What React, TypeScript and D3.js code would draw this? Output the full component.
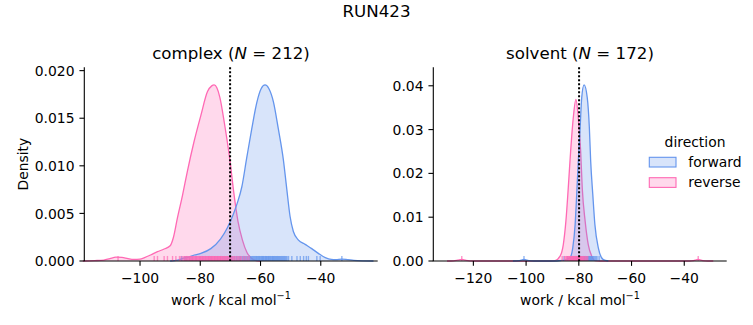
import React from "react";
import * as d3 from "d3";

// ---------- data ----------
const suptitle = "RUN423";
const panels = ["complex", "solvent"];
const panelN = [212, 172];
const directions = ["forward", "reverse"];
const dirColors = ["#6495ED", "#FF69B4"];
const xLabel = "work / kcal mol";

// density curves [work, density]
const complexForward: [number, number][] = [
  [-90, 0], [-87.5, 0.0001], [-86, 0.00025], [-84, 0.0004], [-82, 0.00063], [-79.8, 0.0008],
  [-76.5, 0.0013], [-73.3, 0.0023], [-71, 0.0035], [-69.3, 0.0047], [-67.8, 0.006],
  [-66.2, 0.0078], [-64.6, 0.0108], [-62.9, 0.0139], [-61.2, 0.0167], [-59.8, 0.0181],
  [-58.5, 0.0185], [-57.2, 0.0181], [-55.7, 0.0167], [-54.1, 0.0139], [-52.4, 0.0106],
  [-51.3, 0.0076], [-50.2, 0.0047], [-49.1, 0.0031], [-47.4, 0.0022], [-45.2, 0.00175],
  [-43, 0.0013], [-40.8, 0.0008], [-38.5, 0.00035], [-36.5, 0.00017], [-35, 0.00015],
  [-33, 0.0002], [-31, 0.00014], [-29, 0.00007], [-26, 0.00002], [-22.5, 0],
];
const complexReverse: [number, number][] = [
  [-119, 0], [-115, 0.00004], [-112, 0.0001], [-110, 0.00026], [-108, 0.0004], [-106, 0.00038],
  [-104, 0.00025], [-102, 0.00017], [-100, 0.0002], [-98.5, 0.00036], [-96.5, 0.00063],
  [-94.2, 0.00098], [-92, 0.00126], [-90, 0.0016], [-88.9, 0.0025], [-87.6, 0.0045],
  [-85.9, 0.0069], [-84.3, 0.0094], [-82.1, 0.0125], [-79.8, 0.0153], [-77.6, 0.0178],
  [-76.2, 0.0184], [-75.4, 0.0185], [-74.5, 0.0182], [-73.5, 0.0172], [-72, 0.0145],
  [-70, 0.0102], [-69, 0.0075], [-67.5, 0.0042], [-66, 0.0022], [-64.5, 0.0009],
  [-63, 0.0003], [-61.5, 0.00005], [-60, 0],
];
const solventForward: [number, number][] = [
  [-105, 0], [-102.5, 0.0001], [-100.8, 0.00035], [-99, 0.0001], [-97, 0],
  [-89, 0], [-87, 0.0001], [-85.2, 0.0002], [-83.3, 0.0008], [-82.3, 0.003],
  [-81.4, 0.0083], [-80.8, 0.0152], [-80.2, 0.0228], [-79.5, 0.0304], [-78.9, 0.0373],
  [-78.0, 0.0402], [-76.8, 0.0373], [-76.0, 0.0304], [-75.5, 0.0228], [-74.7, 0.0152],
  [-73.9, 0.0083], [-72.6, 0.003], [-70.7, 0.0003], [-68.8, 0],
];
const solventReverse: [number, number][] = [
  [-130, 0], [-127.5, 0.00005], [-126, 0.00018], [-124.4, 0.00035], [-123, 0.00018],
  [-121.5, 0.00005], [-119, 0], [-91, 0], [-89, 0.0001], [-87.1, 0.0011], [-85.9, 0.0037],
  [-84.9, 0.0091], [-84.0, 0.0167], [-83.1, 0.0251], [-82.1, 0.0327], [-81.1, 0.0369],
  [-80.2, 0.0327], [-79.3, 0.0251], [-78.7, 0.0167], [-77.6, 0.0091], [-76.4, 0.0037],
  [-75.1, 0.0011], [-73.9, 0.0001], [-72, 0], [-38, 0], [-36.5, 0.0001], [-34.7, 0.00035],
  [-33, 0.0001], [-31, 0], [-29, 0],
];

// rug values
const complexForwardRug = [
  -86.2, -85.1, -84.5, -83.6, -82.7, -81.4, -80.1, -79.2, -78.3, -77.3, -76.4, -75.2, -74.2,
  -73.3, -72.5, -71.8, -71.1, -70.4, -69.8, -69.2, -68.6, -68.0, -67.5, -67.0, -66.6, -66.1,
  -65.7, -65.3, -64.9, -64.5, -64.2, -63.8, -63.5, -63.2, -62.9, -62.6, -62.3, -62.0, -61.7,
  -61.4, -61.2, -60.9, -60.7, -60.4, -60.2, -59.9, -59.7, -59.4, -59.2, -59.0, -58.8, -58.5,
  -58.3, -58.1, -57.9, -57.6, -57.4, -57.2, -57.0, -56.7, -56.5, -56.2, -56.0, -55.8, -55.6,
  -55.3, -55.1, -54.8, -54.6, -54.3, -54.1, -53.8, -53.6, -53.3, -53.0, -52.7, -52.4, -52.1,
  -51.8, -51.5, -51.2, -50.7, -49.6, -47.9, -46.8, -45.7, -44.8, -44.1, -41.3, -40.2, -33.0,
];
const complexReverseRug = [
  -107.3, -95.3, -94.2, -92.0, -90.9, -89.2, -88.1, -86.9, -86.4, -85.8, -85.4, -85.1, -84.8,
  -84.6, -84.3, -84.0, -83.7, -83.5, -83.3, -83.1, -82.8, -82.6, -82.4, -82.2, -81.9, -81.7,
  -81.5, -81.3, -81.1, -80.9, -80.6, -80.4, -80.2, -80.0, -79.8, -79.6, -79.4, -79.2, -79.0,
  -78.8, -78.6, -78.4, -78.2, -78.0, -77.8, -77.6, -77.4, -77.2, -77.0, -76.9, -76.7, -76.5,
  -76.3, -76.1, -75.9, -75.8, -75.6, -75.4, -75.2, -75.0, -74.8, -74.7, -74.5, -74.3, -74.1,
  -73.9, -73.7, -73.5, -73.3, -73.1, -72.9, -72.7, -72.4, -72.2, -72.0, -71.8, -71.5, -71.3,
  -71.0, -70.8, -70.5, -70.2, -69.9, -69.6, -69.2, -68.9, -68.5, -68.1, -67.6, -67.2, -66.8,
  -66.4, -65.7, -65.1, -64.4, -63.8,
];
const solventForwardRug = [
  -100.8, -85.6, -84.2, -83.1, -82.4, -82.0, -81.6, -81.2, -80.8, -80.5, -80.2, -79.9, -79.6,
  -79.4, -79.2, -79.0, -78.8, -78.6, -78.4, -78.2, -78.0, -77.8, -77.6, -77.4, -77.2, -77.0,
  -76.8, -76.6, -76.4, -76.2, -75.9, -75.7, -75.4, -75.2, -74.9, -74.6, -74.3, -73.9, -73.5,
  -73.1, -72.3,
];
const solventReverseRug = [
  -124.4, -86.3, -85.4, -84.9, -84.7, -84.4, -84.1, -83.9, -83.6, -83.4, -83.2, -83.0, -82.8,
  -82.6, -82.4, -82.3, -82.1, -81.9, -81.8, -81.6, -81.5, -81.3, -81.2, -81.0, -80.9, -80.7,
  -80.6, -80.4, -80.3, -80.1, -80.0, -79.8, -79.7, -79.5, -79.3, -79.1, -78.9, -78.7, -78.5,
  -78.2, -78.0, -77.7, -77.4, -77.0, -76.6, -34.7,
];

const refLines = [-70.1, -79.9];
const xDomains: [number, number][] = [[-118.5, -21.1], [-135.2, -23.9]];
const yMaxes = [0.02035, 0.04422];
const xTicks = [[-100, -80, -60, -40], [-120, -100, -80, -60, -40]];
const yTicks = [[0, 0.005, 0.01, 0.015, 0.02], [0, 0.01, 0.02, 0.03, 0.04]];
const yDecimals = [3, 2];

const curves = [
  [complexForward, complexReverse],
  [solventForward, solventReverse],
];
const rugs = [
  [complexForwardRug, complexReverseRug],
  [solventForwardRug, solventReverseRug],
];

// ---------- layout ----------
const W = 753;
const H = 325;
const FONT = "DejaVu Sans, sans-serif";
const axLeft = [84.3, 433.3];
const axW = 293.4;
const axTop = 67.3;
const axBottom = 261;
const tickLen = 4.86;
const fmtMinus = (v: number) => (v < 0 ? "\u2212" + Math.abs(v) : String(v));

function Panel({ i }: { i: number }) {
  const x = d3.scaleLinear().domain(xDomains[i]).range([axLeft[i], axLeft[i] + axW]);
  const y = d3.scaleLinear().domain([0, yMaxes[i]]).range([axBottom, axTop]);
  const area = d3
    .area<[number, number]>()
    .x((d) => x(d[0]))
    .y0(y(0))
    .y1((d) => y(d[1]))
    .curve(d3.curveMonotoneX);
  const line = d3
    .line<[number, number]>()
    .x((d) => x(d[0]))
    .y((d) => y(d[1]))
    .curve(d3.curveMonotoneX);
  const rugH = (axBottom - axTop) * 0.026;
  const order = [1, 0]; // reverse drawn first, forward on top
  const cx = axLeft[i] + axW / 2;
  return (
    <g>
      {order.map((k) => (
        <g key={"c" + k}>
          <path d={area(curves[i][k]) || ""} fill={dirColors[k]} fillOpacity={0.25} stroke="none" />
          <path d={line(curves[i][k]) || ""} fill="none" stroke={dirColors[k]} strokeWidth={1.3} />
        </g>
      ))}
      {[0, 1].map((k) => (
        <g key={"r" + k}>
          {rugs[i][k].map((v, j) => (
            <line
              key={j}
              x1={x(v)}
              x2={x(v)}
              y1={axBottom}
              y2={axBottom - rugH}
              stroke={dirColors[k]}
              strokeOpacity={0.7}
              strokeWidth={1.4}
            />
          ))}
        </g>
      ))}
      <line
        x1={x(refLines[i])}
        x2={x(refLines[i])}
        y1={axTop}
        y2={axBottom}
        stroke="black"
        strokeWidth={2}
        strokeDasharray="2 2"
      />
      {/* spines */}
      <line x1={axLeft[i]} x2={axLeft[i]} y1={axTop} y2={axBottom} stroke="black" strokeWidth={1.1} />
      <line x1={axLeft[i] - 0.55} x2={axLeft[i] + axW} y1={axBottom} y2={axBottom} stroke="black" strokeWidth={1.1} />
      {/* x ticks */}
      {xTicks[i].map((t) => (
        <g key={"xt" + t}>
          <line x1={x(t)} x2={x(t)} y1={axBottom} y2={axBottom + tickLen} stroke="black" strokeWidth={1.1} />
          <text x={x(t)} y={282.7} textAnchor="middle" fontSize={13.9} fontFamily={FONT} fill="black">
            {fmtMinus(t)}
          </text>
        </g>
      ))}
      {/* y ticks */}
      {yTicks[i].map((t) => (
        <g key={"yt" + t}>
          <line x1={axLeft[i]} x2={axLeft[i] - tickLen} y1={y(t)} y2={y(t)} stroke="black" strokeWidth={1.1} />
          <text
            x={axLeft[i] - tickLen - 4.9}
            y={y(t) + 5.1}
            textAnchor="end"
            fontSize={13.9}
            fontFamily={FONT}
            fill="black"
          >
            {t.toFixed(yDecimals[i])}
          </text>
        </g>
      ))}
      {/* title */}
      <text x={cx} y={59.3} textAnchor="middle" fontSize={16.67} fontFamily={FONT} fill="black">
        {panels[i] + " ("}
        <tspan fontStyle="italic">N</tspan>
        {" = " + panelN[i] + ")"}
      </text>
      {/* x label */}
      <text x={cx} y={304.5} textAnchor="middle" fontSize={13.9} fontFamily={FONT} fill="black">
        {xLabel}
        <tspan fontSize={9.7} dy={-5.5}>{"\u22121"}</tspan>
      </text>
    </g>
  );
}

export default function App() {
  const legendX = 649.3;
  return (
    <svg width={W} height={H} style={{ display: "block", position: "absolute", left: 0, top: 0 }}>
      <rect width={W} height={H} fill="white" />
      <text x={W / 2} y={17.3} textAnchor="middle" fontSize={16.67} fontFamily={FONT} fill="black">
        {suptitle}
      </text>
      <Panel i={0} />
      <Panel i={1} />
      <text
        transform={`translate(28.3,${(axTop + axBottom) / 2}) rotate(-90)`}
        textAnchor="middle"
        fontSize={13.9}
        fontFamily={FONT}
        fill="black"
      >
        Density
      </text>
      {/* legend */}
      <text x={695} y={146.5} textAnchor="middle" fontSize={13.9} fontFamily={FONT} fill="black">
        direction
      </text>
      {directions.map((d, k) => (
        <g key={d}>
          <rect
            x={legendX}
            y={157.3 + k * 20.4}
            width={26.7}
            height={9.7}
            fill={dirColors[k]}
            fillOpacity={0.25}
            stroke={dirColors[k]}
            strokeWidth={1.1}
          />
          <text x={688.3} y={167 + k * 20.4} fontSize={13.9} fontFamily={FONT} fill="black">
            {d}
          </text>
        </g>
      ))}
    </svg>
  );
}
